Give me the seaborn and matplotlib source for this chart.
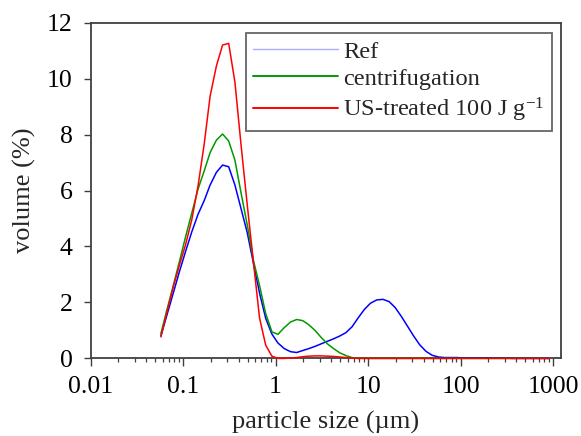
import numpy as np
import pandas as pd
import matplotlib
matplotlib.use("Agg")
import matplotlib.pyplot as plt
import seaborn as sns

# ---- data ----
sizes = [0.0575, 0.0671, 0.0782, 0.0912, 0.106, 0.124, 0.145, 0.169, 0.196, 0.229,
         0.267, 0.311, 0.363, 0.424, 0.494, 0.576, 0.671, 0.782, 0.912,
         1.06, 1.24, 1.45, 1.69, 1.96, 2.29, 2.67, 3.11, 3.63, 4.24, 4.94, 5.76, 6.71, 7.82, 9.12,
         10.6, 12.4, 14.5, 16.9, 19.6, 22.9, 26.7, 31.1, 36.3, 42.4, 49.4, 57.6, 67.1, 78.2, 91.2,
         106, 124, 145, 169, 196, 229, 267, 311, 363, 424, 494, 576, 671, 782, 912]

ref = [0.8, 1.57, 2.33, 3.1, 3.81, 4.52, 5.15, 5.64, 6.2, 6.65, 6.91, 6.85, 6.2, 5.34,
       4.49, 3.4, 2.33, 1.43, 0.87, 0.55, 0.35, 0.24, 0.21, 0.28, 0.35, 0.43, 0.52, 0.61,
       0.7, 0.8, 0.92, 1.13, 1.45, 1.75, 1.97, 2.09, 2.11, 2.03, 1.82, 1.5, 1.15, 0.8,
       0.48, 0.25, 0.11, 0.05, 0.03, 0.03, 0.03, 0.02, 0.02, 0.02, 0.02, 0.02, 0.01, 0.01,
       0.01, 0, 0, 0, 0, 0, 0, 0]

centrifugation = [0.89, 1.76, 2.6, 3.46, 4.33, 5.19, 6.05, 6.7, 7.36, 7.8, 8.02, 7.77, 7.09,
                  5.9, 4.77, 3.5, 2.6, 1.6, 0.95, 0.86, 1.1, 1.3, 1.39, 1.35, 1.2, 1.0, 0.75,
                  0.52, 0.35, 0.2, 0.1, 0.03, 0, 0, 0, 0, 0, 0, 0, 0, 0, 0, 0, 0, 0, 0, 0, 0,
                  0, 0, 0, 0, 0, 0, 0, 0, 0, 0, 0, 0, 0, 0, 0, 0]

us_treated = [0.77, 1.67, 2.55, 3.33, 4.05, 4.95, 6.16, 7.66, 9.38, 10.45, 11.2, 11.26, 9.88,
              7.6, 5.48, 3.44, 1.44, 0.47, 0.08, 0.0, 0.0, 0.01, 0.03, 0.06, 0.08, 0.09, 0.09,
              0.08, 0.07, 0.05, 0.03, 0.01, 0, 0, 0, 0, 0, 0, 0, 0, 0, 0, 0, 0, 0, 0, 0, 0,
              0, 0, 0, 0, 0, 0, 0, 0, 0, 0, 0, 0, 0, 0, 0, 0]

labels = ["Ref", "centrifugation", "US-treated 100 J g$^{-1}$"]
colors = ["#0000ff", "#009a00", "#ff0000"]

frames = []
for lab, vals in zip(labels, [ref, centrifugation, us_treated]):
    frames.append(pd.DataFrame({"size": sizes[:len(vals)], "volume": vals, "sample": lab}))
df = pd.concat(frames, ignore_index=True)

# ---- style ----
sns.set_theme(style="white")
plt.rcParams["font.family"] = ["Liberation Serif", "DejaVu Serif"]
plt.rcParams["mathtext.fontset"] = "custom"
plt.rcParams["mathtext.rm"] = "Liberation Serif"
plt.rcParams["mathtext.it"] = "Liberation Serif:italic"
plt.rcParams["mathtext.default"] = "rm"

fig = plt.figure(figsize=(5.81, 4.36), dpi=100)
ax = fig.add_axes([0.156, 0.178, 0.9656 - 0.156, 0.948 - 0.178])

sns.lineplot(data=df, x="size", y="volume", hue="sample", hue_order=labels,
             palette=colors, linewidth=1.1, estimator=None, sort=False, ax=ax)
for ln in ax.get_lines():
    ln.set_zorder(3)
    ln.set_clip_on(False)

ax.set_xscale("log")
ax.set_xlim(0.01, 1220)
ax.set_ylim(0, 12)
ax.set_yticks([0, 2, 4, 6, 8, 10, 12])
ax.set_xticks([0.01, 0.1, 1, 10, 100, 1000])
ax.set_xticklabels(["0.01", "0.1", "1", "10", "100", "1000"])
ax.set_yticklabels(["0", "2", "4", "6", "8", "10", "12"])

spine_col = "#404040"
for s in ax.spines.values():
    s.set_color(spine_col)
    s.set_linewidth(1.3)

ax.tick_params(axis="both", which="major", direction="out", colors=spine_col,
               labelcolor="black", labelsize=18.5, width=1.0)
ax.tick_params(axis="x", which="major", length=6, bottom=True, top=False, pad=7)
ax.tick_params(axis="x", which="minor", length=3, width=0.9, bottom=True, top=False,
               colors=spine_col)
ax.tick_params(axis="y", which="major", length=5, left=True, right=False, pad=8)

ax.set_xlabel("particle size (\u00b5m)", fontsize=19, labelpad=9)
ax.set_ylabel("volume (%)", fontsize=19, labelpad=8)
ax.grid(False)

leg = ax.legend(loc="upper right", bbox_to_anchor=(0.981, 0.969), fontsize=17.6,
                frameon=True, fancybox=False, shadow=False, handlelength=3.5,
                handletextpad=0.2, labelspacing=0.22, borderpad=0.3,
                borderaxespad=0.0, title=None)
leg.get_frame().set_edgecolor(spine_col)
leg.get_frame().set_linewidth(1.3)
leg.get_frame().set_facecolor("white")
hl = leg.get_lines()
hl[0].set_color("#aaaaff")
hl[0].set_linewidth(1.0)
for h in hl[1:]:
    h.set_linewidth(1.4)

fig.savefig("out.png", dpi=100)
